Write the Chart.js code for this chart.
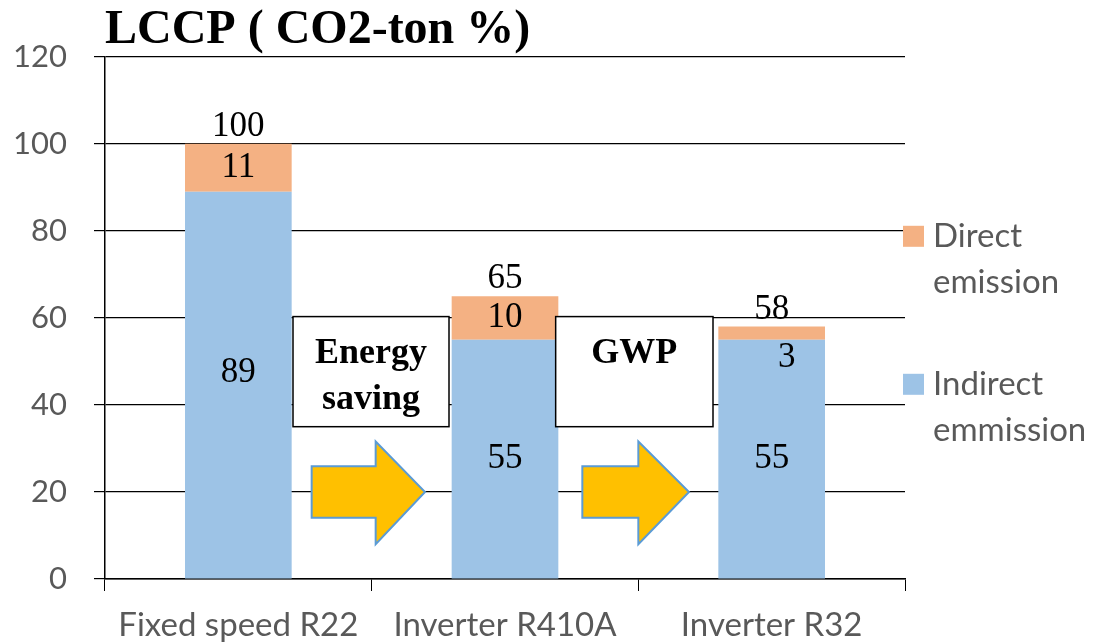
<!DOCTYPE html>
<html>
<head>
<meta charset="utf-8">
<script src="https://cdn.jsdelivr.net/npm/chart.js@4.4.1/dist/chart.umd.min.js"></script>
<style>
  html, body { margin: 0; padding: 0; background: #fff; }
  #wrap { width: 1098px; height: 643px; position: relative; }
</style>
</head>
<body>
<div id="wrap"><canvas id="lccp"></canvas></div>
<script>
// data
const categories = ['Fixed speed R22', 'Inverter R410A', 'Inverter R32'];
const indirectEmission = [89, 55, 55];
const directEmission = [11, 10, 3];
const totals = categories.map((_, i) => indirectEmission[i] + directEmission[i]);
const yMin = 0, yMax = 120, yStep = 20;
const stepNotes = [['Energy', 'saving'], ['GWP']];

const GRAY = '#595959';
const ORANGE = '#F4B183';
const BLUE = '#9DC3E6';
const SERIF = '"Liberation Serif", "Times New Roman", serif';
const SANS = 'Lato, "Open Sans", sans-serif';

// numbers on / above the bars
const valueLabels = {
  id: 'valueLabels',
  afterDatasetsDraw(chart) {
    const { ctx } = chart;
    ctx.save();
    ctx.fillStyle = '#000';
    ctx.font = '35px ' + SERIF;
    ctx.textAlign = 'center';
    ctx.textBaseline = 'middle';
    chart.data.datasets.forEach((ds, di) => {
      chart.getDatasetMeta(di).data.forEach((bar, i) => {
        const h = bar.base - bar.y;
        if (h >= 30) {
          ctx.fillText(ds.data[i], bar.x, (bar.y + bar.base) / 2 - (h > 300 ? 12 : 0));
        } else {
          // thin slice: put it just under the slice
          ctx.fillText(ds.data[i], bar.x + 15, bar.base + 18);
        }
      });
    });
    const top = chart.getDatasetMeta(chart.data.datasets.length - 1).data;
    top.forEach((bar, i) => ctx.fillText(totals[i], bar.x, bar.y - 17));
    ctx.restore();
  }
};

// boxes and arrows between the bars
const stepArrows = {
  id: 'stepArrows',
  afterDatasetsDraw(chart) {
    const { ctx } = chart;
    const x = chart.scales.x, y = chart.scales.y;
    const gap = x.getPixelForValue(1) - x.getPixelForValue(0);
    ctx.save();
    stepNotes.forEach((lines, i) => {
      const x0 = x.getPixelForValue(i);
      // text box
      const bl = x0 + gap * (i === 0 ? 0.205 : 0.19), br = x0 + gap * (i === 0 ? 0.79 : 0.78);
      const bt = y.getPixelForValue(60.3), bb = y.getPixelForValue(35);
      ctx.fillStyle = '#fff';
      ctx.fillRect(bl, bt, br - bl, bb - bt);
      ctx.strokeStyle = '#000';
      ctx.lineWidth = 1.5;
      ctx.strokeRect(bl, bt, br - bl, bb - bt);
      ctx.fillStyle = '#000';
      ctx.font = 'bold 36px ' + SERIF;
      ctx.textAlign = 'center';
      ctx.textBaseline = 'alphabetic';
      lines.forEach((t, k) => ctx.fillText(t, (bl + br) / 2, bt + 46 + k * 46));
      // arrow
      const al = x0 + gap * (i === 0 ? 0.275 : 0.29);
      const ah = x0 + gap * (i === 0 ? 0.515 : 0.5);
      const at = x0 + gap * (i === 0 ? 0.7 : 0.69);
      const yc = y.getPixelForValue(20);
      const sh = y.getPixelForValue(25.9), sl = y.getPixelForValue(14.1);
      const hh = y.getPixelForValue(31.6), hl = y.getPixelForValue(8.0);
      ctx.beginPath();
      ctx.moveTo(al, sh);
      ctx.lineTo(ah, sh);
      ctx.lineTo(ah, hh);
      ctx.lineTo(at, yc);
      ctx.lineTo(ah, hl);
      ctx.lineTo(ah, sl);
      ctx.lineTo(al, sl);
      ctx.closePath();
      ctx.fillStyle = '#FFC000';
      ctx.fill();
      ctx.strokeStyle = '#5B9BD5';
      ctx.lineWidth = 2;
      ctx.stroke();
    });
    ctx.restore();
  }
};

// legend on the right, two lines per entry
const sideLegend = {
  id: 'sideLegend',
  afterDraw(chart) {
    const { ctx, chartArea } = chart;
    const order = [1, 0];
    const tops = [chartArea.top + 169, chartArea.top + 317];
    ctx.save();
    ctx.font = '33px ' + SANS;
    ctx.textAlign = 'left';
    ctx.textBaseline = 'middle';
    order.forEach((di, k) => {
      const ds = chart.data.datasets[di];
      const bx = chartArea.right - 2, by = tops[k];
      ctx.fillStyle = ds.backgroundColor;
      ctx.fillRect(bx, by, 21, 21);
      ctx.fillStyle = GRAY;
      ds.label.split(' ').forEach((w, j) => ctx.fillText(w, bx + 30, by + 11 + j * 46));
    });
    ctx.restore();
  }
};

new Chart(document.getElementById('lccp'), {
  type: 'bar',
  data: {
    labels: categories,
    datasets: [
      { label: 'Indirect emmission', data: indirectEmission, backgroundColor: BLUE },
      { label: 'Direct emission', data: directEmission, backgroundColor: ORANGE }
    ]
  },
  options: {
    responsive: true,
    maintainAspectRatio: false,
    animation: false,
    layout: { padding: { left: 0, right: 193, top: 0, bottom: 0 } },
    datasets: { bar: { categoryPercentage: 1, barPercentage: 0.4 } },
    plugins: {
      legend: { display: false },
      tooltip: { enabled: false },
      title: {
        display: true,
        text: 'LCCP ( CO2-ton %)',
        align: 'start',
        fullSize: false,
        color: '#000',
        font: { family: SERIF, size: 48, weight: 'bold', lineHeight: 1.1 },
        padding: { top: 4, bottom: 0 }
      }
    },
    scales: {
      x: {
        stacked: true,
        afterFit: s => { s.height = 64; },
        grid: { drawOnChartArea: false, drawTicks: true, tickLength: 12, color: '#000', offset: true },
        border: { color: '#000', width: 1.5 },
        ticks: { color: GRAY, font: { family: SANS, size: 33 }, padding: 15 }
      },
      y: {
        stacked: true,
        min: yMin,
        max: yMax,
        afterFit: s => { s.width = 105; },
        grid: { color: '#000', lineWidth: 1.2, tickLength: 11 },
        border: { color: '#000', width: 1.5 },
        ticks: { stepSize: yStep, color: GRAY, font: { family: SANS, size: 31 }, padding: 27 }
      }
    }
  },
  plugins: [valueLabels, stepArrows, sideLegend]
});
</script>
</body>
</html>
